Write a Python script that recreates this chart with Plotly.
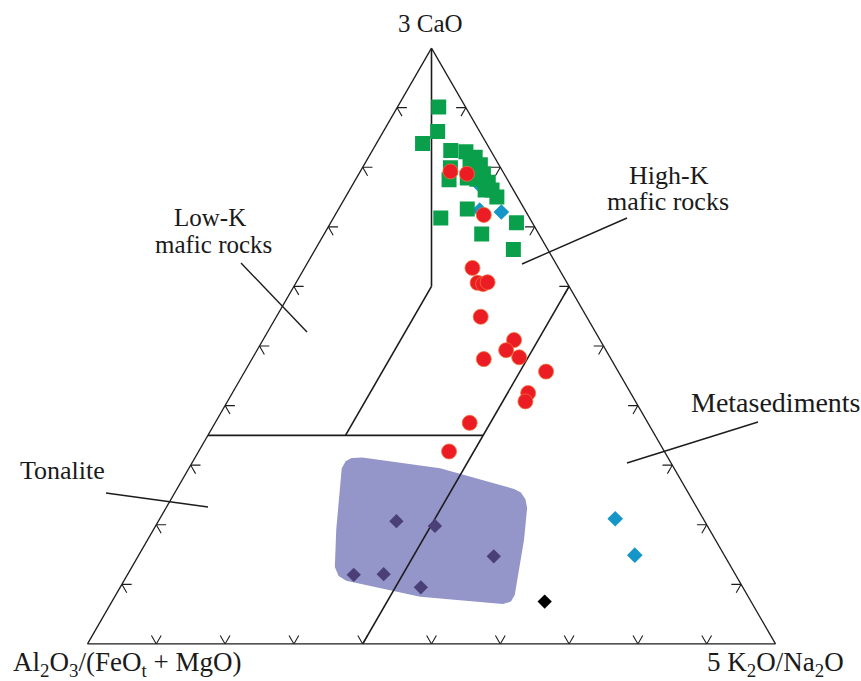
import plotly.graph_objects as go

# ---------------- data (ternary fractions: a = 3CaO, c = 5K2O/Na2O, b = rest) ----------------
green_a = [0.901, 0.860, 0.840, 0.828, 0.826, 0.817, 0.804, 0.789, 0.775, 0.762, 0.750,
           0.804, 0.780, 0.762, 0.799, 0.779, 0.782, 0.730, 0.715, 0.707, 0.688, 0.662]
green_c = [0.060, 0.079, 0.067, 0.114, 0.137, 0.155, 0.169, 0.181, 0.195, 0.207, 0.220,
           0.154, 0.176, 0.197, 0.128, 0.136, 0.161, 0.187, 0.156, 0.270, 0.229, 0.288]

red_a = [0.793, 0.789, 0.720, 0.631, 0.606, 0.604, 0.607, 0.549, 0.510, 0.493, 0.481,
         0.478, 0.457, 0.421, 0.407, 0.371, 0.323]
red_c = [0.131, 0.157, 0.216, 0.244, 0.264, 0.273, 0.278, 0.297, 0.365, 0.362, 0.387,
         0.337, 0.438, 0.430, 0.433, 0.370, 0.364]

cyan_a = [0.728, 0.772, 0.725, 0.210, 0.149]
cyan_c = [0.206, 0.182, 0.239, 0.662, 0.721]

purple_a = [0.206, 0.198, 0.147, 0.116, 0.117, 0.095]
purple_c = [0.346, 0.406, 0.517, 0.329, 0.372, 0.437]

black_a = [0.071]
black_c = [0.629]

# field of the purple region
field_a = [0.312, 0.313, 0.295, 0.260, 0.254, 0.243, 0.228, 0.175, 0.082, 0.071, 0.067,
           0.079, 0.106, 0.114, 0.129, 0.191, 0.295, 0.307]
field_c = [0.228, 0.243, 0.365, 0.490, 0.503, 0.515, 0.525, 0.547, 0.580, 0.580, 0.570,
           0.444, 0.323, 0.308, 0.295, 0.266, 0.222, 0.222]

# classification boundaries (a, c)
bound_lines = [
    ([1.0, 0.6], [0.0, 0.2]),      # b = c
    ([0.6, 0.35], [0.2, 0.2]),     # c = 0.2
    ([0.35, 0.35], [0.0, 0.4]),    # a = 0.35
    ([0.0, 0.6], [0.4, 0.4]),      # c = 0.4
]

tick_values = [0.1, 0.2, 0.3, 0.4, 0.5, 0.6, 0.7, 0.8, 0.9]

# (text, x px, y px, font size)
field_labels = [
    ("Low-K", 210, 217, 25), ("mafic rocks", 213, 244, 25),
    ("High-K", 669, 175, 26), ("mafic rocks", 668, 202, 26),
    ("Metasediments", 776, 402, 28),
    ("Tonalite", 62, 470, 26),
]
leaders = [((241, 263), (307, 332)), ((627, 218), (522, 264)),
           ((758, 422), (627, 463)), ((106, 493), (208, 507))]

W, H = 861, 681
FONT = "Liberation Serif, Times New Roman, serif"


def bvals(a, c):
    return [1 - x - y for x, y in zip(a, c)]


fig = go.Figure()

# shaded field
fb = bvals(field_a, field_c)
fig.add_trace(go.Scatterternary(a=field_a + field_a[:1], b=fb + fb[:1],
                                c=field_c + field_c[:1], mode="lines", fill="toself",
                                fillcolor="#9496CA", line=dict(width=0, color="#9496CA"),
                                hoverinfo="skip", showlegend=False))

# boundary lines
for la, lc in bound_lines:
    fig.add_trace(go.Scatterternary(a=la, b=bvals(la, lc), c=lc, mode="lines",
                                    line=dict(color="#1c1c1c", width=1.6),
                                    hoverinfo="skip", showlegend=False))

# chevron ticks
d = 0.0142
ta, tb, tc = [], [], []
for t in tick_values:
    # left side (c = 0)
    ta += [t, t, t - d, None]; tb += [1 - t - d, 1 - t, 1 - t, None]; tc += [d, 0, d, None]
    # right side (b = 0)
    ta += [t, t, t - d, None]; tb += [d, 0, d, None]; tc += [1 - t - d, 1 - t, 1 - t, None]
    # bottom (a = 0)
    ta += [d, 0, d, None]; tb += [1 - t, 1 - t, 1 - t - d, None]; tc += [t - d, t, t, None]
fig.add_trace(go.Scatterternary(a=ta, b=tb, c=tc, mode="lines",
                                line=dict(color="#1c1c1c", width=1.1),
                                hoverinfo="skip", showlegend=False, connectgaps=False))

# points
fig.add_trace(go.Scatterternary(a=purple_a, b=bvals(purple_a, purple_c), c=purple_c, mode="markers",
                                marker=dict(symbol="diamond", size=11, color="#4B3F78"), showlegend=False))
fig.add_trace(go.Scatterternary(a=black_a, b=bvals(black_a, black_c), c=black_c, mode="markers",
                                marker=dict(symbol="diamond", size=11, color="#000000"), showlegend=False))
fig.add_trace(go.Scatterternary(a=cyan_a, b=bvals(cyan_a, cyan_c), c=cyan_c, mode="markers",
                                marker=dict(symbol="diamond", size=12, color="#1496C8"), showlegend=False))
fig.add_trace(go.Scatterternary(a=green_a, b=bvals(green_a, green_c), c=green_c, mode="markers",
                                marker=dict(symbol="square", size=15, color="#0AA04B"), showlegend=False))
fig.add_trace(go.Scatterternary(a=red_a, b=bvals(red_a, red_c), c=red_c, mode="markers",
                                marker=dict(symbol="circle", size=15, color="#EC1C24",
                                            line=dict(color="#F2703A", width=0.8)), showlegend=False))

axis_style = dict(showgrid=False, ticks="", showticklabels=False, linecolor="#1c1c1c",
                  linewidth=1.3, title=dict(text=""), min=0)

yc = 1 - 346 / H
fig.update_layout(
    width=W, height=H,
    margin=dict(l=0, r=0, t=0, b=0),
    paper_bgcolor="white",
    ternary=dict(
        sum=1,
        domain=dict(x=[87.5 / W, 775.5 / W], y=[yc - 0.45, yc + 0.45]),
        bgcolor="white",
        aaxis=axis_style, baxis=axis_style, caxis=axis_style,
    ),
    showlegend=False,
)

ann = []
for text, x, y, fs in field_labels:
    ann.append(dict(text=text, x=x / W, y=1 - y / H, xref="paper", yref="paper",
                    xanchor="center", yanchor="middle", showarrow=False,
                    font=dict(family=FONT, size=fs, color="#1a1a1a")))
ann.append(dict(text="3 CaO", x=430 / W, y=1 - 23 / H, xref="paper", yref="paper",
                xanchor="center", yanchor="middle", showarrow=False,
                font=dict(family=FONT, size=25, color="#1a1a1a")))
ann.append(dict(text="Al<sub>2</sub>O<sub>3</sub>/(FeO<sub>t</sub> + MgO)", x=11 / W, y=1 - 664 / H,
                xref="paper", yref="paper", xanchor="left", yanchor="middle", showarrow=False,
                font=dict(family=FONT, size=27, color="#1a1a1a")))
ann.append(dict(text="5 K<sub>2</sub>O/Na<sub>2</sub>O", x=846 / W, y=1 - 664 / H,
                xref="paper", yref="paper", xanchor="right", yanchor="middle", showarrow=False,
                font=dict(family=FONT, size=27, color="#1a1a1a")))
fig.update_layout(annotations=ann)

shapes = []
for (x0, y0), (x1, y1) in leaders:
    shapes.append(dict(type="line", xref="paper", yref="paper",
                       x0=x0 / W, y0=1 - y0 / H, x1=x1 / W, y1=1 - y1 / H,
                       line=dict(color="#1c1c1c", width=1.4)))
fig.update_layout(shapes=shapes)

fig.write_html("out.html", config={"displayModeBar": False},
               post_script="document.body.style.margin='0px';document.body.style.padding='0px';")
